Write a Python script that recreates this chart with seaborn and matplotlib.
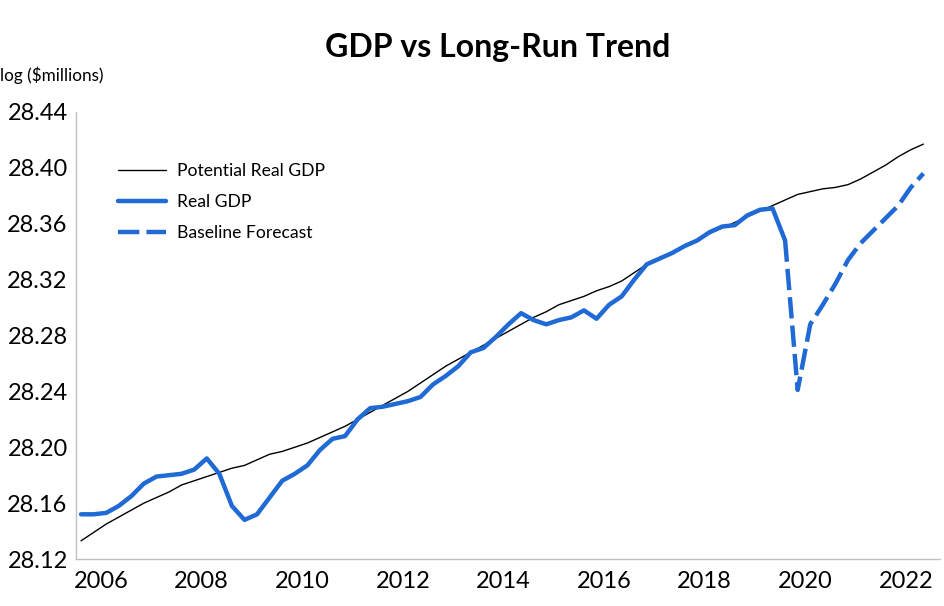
import matplotlib
matplotlib.use("Agg")
import matplotlib.pyplot as plt
import seaborn as sns
import numpy as np
import pandas as pd

# quarterly observations, starting mid-2005
quarters = 2005.6 + 0.25 * np.arange(68)

potential_gdp = [
    28.133, 28.139, 28.145, 28.150, 28.155, 28.160, 28.164, 28.168, 28.173, 28.176,
    28.179, 28.182, 28.185, 28.187, 28.191, 28.195, 28.197, 28.200, 28.203, 28.207,
    28.211, 28.215, 28.220, 28.225, 28.230, 28.235, 28.240, 28.246, 28.252, 28.258,
    28.263, 28.268, 28.273, 28.278, 28.283, 28.288, 28.293, 28.297, 28.302, 28.305,
    28.308, 28.312, 28.315, 28.319, 28.325, 28.331, 28.335, 28.339, 28.344, 28.348,
    28.353, 28.357, 28.361, 28.365, 28.369, 28.373, 28.377, 28.381, 28.383, 28.385,
    28.386, 28.388, 28.392, 28.397, 28.402, 28.408, 28.413, 28.417,
]

real_gdp = [
    28.152, 28.152, 28.153, 28.158, 28.165, 28.174, 28.179, 28.180, 28.181, 28.184,
    28.192, 28.181, 28.158, 28.148, 28.152, 28.164, 28.176, 28.181, 28.187, 28.198,
    28.206, 28.208, 28.220, 28.228, 28.229, 28.231, 28.233, 28.236, 28.245, 28.251,
    28.258, 28.268, 28.271, 28.279, 28.288, 28.296, 28.291, 28.288, 28.291, 28.293,
    28.298, 28.292, 28.302, 28.308, 28.320, 28.331, 28.335, 28.339, 28.344, 28.348,
    28.354, 28.358, 28.359, 28.366, 28.370, 28.371, 28.348,
]

# forecast starts at the last actual quarter
forecast = [
    28.348, 28.241, 28.288, 28.302, 28.317, 28.334, 28.346, 28.355, 28.364, 28.373,
    28.386, 28.396,
]

year_ticks = list(range(2006, 2023, 2))
value_ticks = [28.12, 28.16, 28.20, 28.24, 28.28, 28.32, 28.36, 28.40, 28.44]

blue = "#1F6AD4"

sns.set_style("white")
plt.rcParams["font.family"] = ["Lato", "DejaVu Sans"]
plt.rcParams["text.color"] = "black"
plt.rcParams["xtick.color"] = "black"
plt.rcParams["ytick.color"] = "black"

fig = plt.figure(figsize=(9.44, 6.06), dpi=100)
ax = fig.add_axes([76 / 944, 47 / 606, 864 / 944, 447 / 606])

n_real = len(real_gdp)
sns.lineplot(x=quarters, y=potential_gdp, ax=ax, color="black", linewidth=1.0,
             label="Potential Real GDP")
sns.lineplot(x=quarters[:n_real], y=real_gdp, ax=ax, color=blue, linewidth=3.2,
             label="Real GDP")
sns.lineplot(x=quarters[n_real - 1:], y=forecast, ax=ax, color=blue, linewidth=3.2,
             label="Baseline Forecast")
ax.lines[-1].set_dashes((4.8, 1.6))

ax.set_xlim(2005.5, 2022.68)
ax.set_ylim(28.12, 28.44)
ax.set_xticks(year_ticks)
ax.set_yticks(value_ticks)
ax.set_yticklabels([f"{v:.2f}" for v in value_ticks])
ax.tick_params(axis="both", length=0, labelsize=17)
ax.tick_params(axis="x", pad=9)
ax.tick_params(axis="y", pad=6)
ax.set_xlabel("")
ax.set_ylabel("")

for side in ["top", "right"]:
    ax.spines[side].set_visible(False)
for side in ["left", "bottom"]:
    ax.spines[side].set_color("#C0C0C0")
    ax.spines[side].set_linewidth(1.0)

ax.legend(loc="upper left", bbox_to_anchor=(118 / 944, 1 - 163 / 606),
          bbox_transform=fig.transFigure, frameon=False, fontsize=12.6,
          handlelength=2.75, handletextpad=0.62, labelspacing=0.86,
          borderpad=0, borderaxespad=0)

fig.text(498 / 944, 1 - 47 / 606, "GDP vs Long-Run Trend", ha="center", va="center",
         fontsize=23, fontweight="bold")
fig.text(0.0, 1 - 75 / 606, "log ($millions)", ha="left", va="center", fontsize=12.3)

fig.savefig("out.png", dpi=100)
